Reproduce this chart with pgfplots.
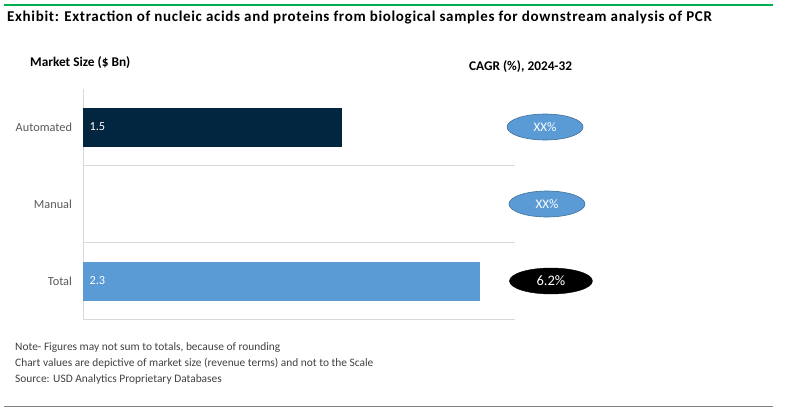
\documentclass[border=0pt]{standalone}
\usepackage{pgfplots}
\pgfplotsset{compat=1.18}
\usepackage{fontspec}
\setmainfont{Carlito}
\newfontfamily\titlefont[LetterSpace=4.5]{Carlito}
\usetikzlibrary{shapes.geometric}
\definecolor{navy}{HTML}{022540}
\definecolor{lblue}{HTML}{5B9BD5}
\definecolor{eborder}{HTML}{41719C}
\definecolor{grn}{HTML}{00B050}
\definecolor{tickgray}{HTML}{595959}
\definecolor{notegray}{HTML}{404040}
\definecolor{gridgray}{HTML}{D9D9D9}
\begin{document}
\begin{tikzpicture}
\useasboundingbox (0pt,0pt) rectangle (785pt,-413pt);
\draw[grn, line width=2pt] (4pt,-4.7pt) -- (773pt,-4.7pt);
\node[anchor=west, inner sep=0, font=\titlefont\fontsize{15}{17}\selectfont\bfseries] at (7pt,-17.5pt) {Exhibit: Extraction of nucleic acids and proteins from biological samples for downstream analysis of PCR};
\node[anchor=west, inner sep=0, font=\fontsize{13.3}{15}\selectfont\bfseries] at (30pt,-63pt) {Market Size (\$ Bn)};
\node[anchor=west, inner sep=0, font=\fontsize{13.3}{15}\selectfont\bfseries] at (469pt,-66.5pt) {CAGR (\%), 2024-32};
\begin{axis}[
  at={(83pt,-88.5pt)}, anchor=north west,
  scale only axis, width=432pt, height=231pt,
  xmin=0, xmax=2.5, ymin=-0.5, ymax=2.5,
  axis lines*=left,
  axis line style={draw=gridgray, line width=0.8pt, -},
  xtick=\empty,
  ytick={0,1,2}, yticklabels={Total,Manual,Automated},
  major tick length=0pt,
  yticklabel style={font=\fontsize{12.3}{14}\selectfont, text=tickgray, xshift=-7.5pt},
  extra y ticks={0.5,1.5}, extra y tick labels={},
  extra y tick style={grid=major, major grid style={draw=gridgray, line width=0.8pt}},
  clip=false,
]
\addplot[xbar, bar width=39pt, bar shift=0pt, fill=navy, draw=none] coordinates {(1.5,2)};
\addplot[xbar, bar width=39pt, bar shift=0pt, fill=lblue, draw=none] coordinates {(2.3,0)};
\addplot[only marks, mark=none, point meta=explicit symbolic, nodes near coords,
  every node near coord/.style={anchor=west, xshift=3pt, text=white, font=\fontsize{12.3}{14}\selectfont}]
  coordinates {(0,2)[1.5] (0,0)[2.3]};
\addplot[only marks, mark=none, point meta=explicit symbolic, nodes near coords,
  every node near coord/.style={anchor=center, ellipse, fill=lblue, draw=eborder, line width=0.6pt,
    minimum width=76pt, minimum height=26pt, inner sep=0pt, text=white, font=\fontsize{13}{15}\selectfont}]
  coordinates {(2.674,2)[XX\%] (2.685,1)[XX\%]};
\addplot[only marks, mark=none, point meta=explicit symbolic, nodes near coords,
  every node near coord/.style={anchor=center, ellipse, fill=black, draw=black,
    minimum width=83pt, minimum height=26pt, inner sep=0pt, text=white, font=\fontsize{14.5}{16}\selectfont}]
  coordinates {(2.708,0)[6.2\%]};
\end{axis}
\begin{scope}[font=\fontsize{11.4}{13}\selectfont, text=notegray]
\node[anchor=west, inner sep=0] at (15pt,-348pt) {Note- Figures may not sum to totals, because of rounding};
\node[anchor=west, inner sep=0] at (15pt,-363.5pt) {Chart values are depictive of market size (revenue terms) and not to the Scale};
\node[anchor=west, inner sep=0] at (15pt,-379pt) {Source: USD Analytics Proprietary Databases};
\end{scope}
\draw[draw=gray, line width=1pt] (4pt,-406pt) -- (773pt,-406pt);
\end{tikzpicture}
\end{document}
